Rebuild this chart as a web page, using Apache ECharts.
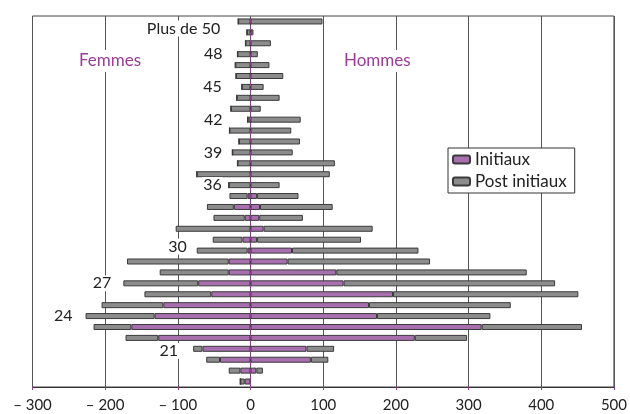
<!DOCTYPE html>
<html><head><meta charset="utf-8">
<script src="https://cdn.jsdelivr.net/npm/echarts@6/dist/echarts.min.js"></script>
<style>html,body{margin:0;padding:0;background:#fff}#c{width:630px;height:414px}</style>
</head><body><div id="c"></div>
<script>
// Categories (bottom to top)
const ages = ['18','19','20','21','22','23','24','25','26','27','28','29','30','31','32','33','34','35',
  '36','37','38','39','40','41','42','43','44','45','46','47','48','49','50','Plus de 50'];
const femmesInitiaux = [8,14,42,66,127,164,132,120,54,72,30,30,4,11,0,8,23,4,
  0,0,0,0,0,0,0,0,0,0,0,0,0,0,0,0];
const femmesPostInitiaux = [6,16,19,13,45,52,95,85,92,103,95,140,70,41,103,43,37,25,
  30,74,18,25,16,29,4,27,19,12,20,21,18,7,5,17];
const hommesInitiaux = [0,8,83,77,226,318,174,163,196,128,118,51,57,9,18,12,13,9,
  0,0,0,0,0,0,0,0,0,0,0,0,0,0,0,0];
const hommesPostInitiaux = [0,9,24,38,72,138,156,195,255,291,262,196,174,143,150,60,100,57,
  40,109,116,58,68,56,69,14,40,18,45,26,10,28,4,99];
const ageLabels = ['21','24','27','30','36','39','42','45','48','Plus de 50'];
const xMin = -300, xMax = 500, xStep = 100;

// label placement (style only)
const labelPlacement = {
  '21': {distance: 14, offset: [0, 2]}, '24': {distance: 12}, '27': {distance: 11},
  '30': {distance: 9, offset: [0, -4]}, '36': {distance: 6}, '39': {distance: 9},
  '42': {distance: 24}, '45': {distance: 19}, '48': {distance: 14},
  'Plus de 50': {distance: 17, offset: [0, 7]}
};

const FONT = 'Lato, "Open Sans", sans-serif';
const PURPLE = '#a86fae';
const GRAY = '#8c8c8c';
const BORDER = '#3a3a3a';
const barCommon = {type: 'bar', stack: 'total', barWidth: 6, animation: false};

const chart = echarts.init(document.getElementById('c'), null, {renderer: 'canvas'});
chart.setOption({
  backgroundColor: '#fff',
  textStyle: {fontFamily: FONT},
  title: [
    {text: 'Femmes', left: 77, top: 50, padding: [1, 2],
     backgroundColor: '#fff',
     textStyle: {fontFamily: FONT, fontSize: 17, fontWeight: 'normal', color: '#9a3c95', lineHeight: 20}},
    {text: 'Hommes', left: 342, top: 50, padding: [1, 2],
     backgroundColor: '#fff',
     textStyle: {fontFamily: FONT, fontSize: 17, fontWeight: 'normal', color: '#9a3c95', lineHeight: 20}}
  ],
  legend: {
    data: ['Initiaux', 'Post initiaux'],
    orient: 'vertical', left: 448, top: 148,
    padding: [3, 8, 3, 4], itemGap: 5,
    itemWidth: 17, itemHeight: 8,
    backgroundColor: '#fff', borderColor: '#333', borderWidth: 1,
    textStyle: {fontFamily: FONT, fontSize: 17, color: '#222', lineHeight: 17},
    selectedMode: false
  },
  grid: {left: 32.5, right: 14.5, top: 16, bottom: 27, show: true,
         borderColor: '#444', borderWidth: 1, containLabel: false},
  xAxis: {
    type: 'value', min: xMin, max: xMax, interval: xStep,
    axisLine: {show: true, lineStyle: {color: '#333', width: 1}},
    axisTick: {show: true, length: 3, lineStyle: {color: '#9a3c95'}},
    splitLine: {show: true, lineStyle: {color: '#555', width: 1}},
    axisLabel: {fontFamily: FONT, fontSize: 15, color: '#222', margin: 11,
      formatter: v => v < 0 ? '\u2013 ' + Math.abs(v) : String(v)}
  },
  yAxis: {
    type: 'category', data: ages, z: 10,
    axisLine: {show: true, onZero: true, lineStyle: {color: '#8e3a8e', type: [4, 3], width: 1}},
    axisTick: {show: false}, axisLabel: {show: false}, splitLine: {show: false}
  },
  series: [
    Object.assign({}, barCommon, {
      name: 'Initiaux',
      itemStyle: {color: PURPLE, borderColor: BORDER, borderWidth: 1},
      data: femmesInitiaux.map(v => -v)
    }),
    Object.assign({}, barCommon, {
      name: 'Post initiaux',
      itemStyle: {color: GRAY, borderColor: BORDER, borderWidth: 1},
      label: {show: false, position: 'left', color: '#222', fontFamily: FONT, fontSize: 16,
              backgroundColor: '#fff', padding: [0, 1]},
      data: femmesPostInitiaux.map((v, i) => {
        const item = {value: -v};
        if (ageLabels.indexOf(ages[i]) >= 0) {
          item.label = Object.assign({show: true, formatter: ages[i]}, labelPlacement[ages[i]]);
        }
        return item;
      })
    }),
    Object.assign({}, barCommon, {
      name: 'Initiaux',
      itemStyle: {color: PURPLE, borderColor: BORDER, borderWidth: 1},
      data: hommesInitiaux
    }),
    Object.assign({}, barCommon, {
      name: 'Post initiaux',
      itemStyle: {color: GRAY, borderColor: BORDER, borderWidth: 1},
      data: hommesPostInitiaux
    })
  ]
});
</script></body></html>
